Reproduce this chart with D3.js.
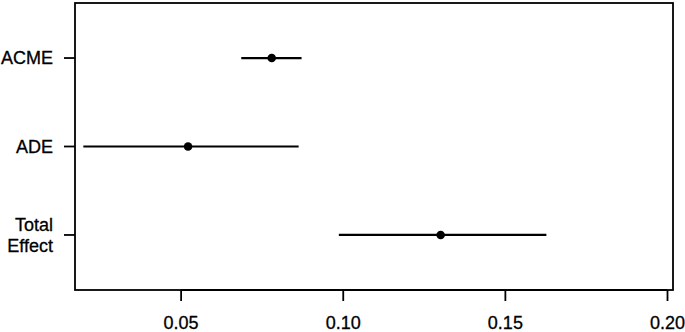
<!DOCTYPE html>
<html>
<head>
<meta charset="utf-8">
<script src="https://cdn.jsdelivr.net/npm/d3@7"></script>
<style>
  body { margin: 0; background: white; }
  text { font-family: "Liberation Sans", Arial, sans-serif; fill: black; }
</style>
</head>
<body>
<div id="chart"></div>
<script>
// Chart values
var effects = ["ACME", "ADE", "Total Effect"];
var estimates = [0.0781, 0.0523, 0.1302];
var lowerCI = [0.0687, 0.0200, 0.0988];
var upperCI = [0.0873, 0.0864, 0.1628];
var xTicks = [0.05, 0.10, 0.15, 0.20];

// Size of the page and plotting box
var width = 685;
var height = 332;
var box = { left: 75, right: 673, top: 3, bottom: 290 };
var fontSize = '18px';

var svg = d3.select('#chart').append('svg')
    .attr('width', width)
    .attr('height', height);

var x = d3.scaleLinear()
    .domain([0.01743, 0.20185])
    .range([box.left, box.right]);

// rows: ACME on top, Total Effect at the bottom
var y = d3.scaleLinear()
    .domain([0.378, 3.622])
    .range([box.top, box.bottom]);

var rows = effects.map(function(name, i) {
    return { name: name, est: estimates[i], lo: lowerCI[i], hi: upperCI[i], pos: i + 1 };
});

// Plot frame
svg.append('rect')
    .attr('x', box.left)
    .attr('y', box.top)
    .attr('width', box.right - box.left)
    .attr('height', box.bottom - box.top)
    .attr('fill', 'none')
    .attr('stroke', 'black')
    .attr('stroke-width', 1.8);

// X axis
var xAxis = svg.append('g')
    .attr('transform', `translate(0,${box.bottom})`)
    .call(d3.axisBottom(x).tickValues(xTicks).tickFormat(d3.format('.2f')).tickSize(11).tickPadding(15));
xAxis.select('.domain')
    .attr('d', `M${x(0.05)},0H${x(0.20)}`)
    .attr('stroke-width', 1.8);
xAxis.selectAll('.tick line').attr('stroke-width', 1.8);
xAxis.selectAll('.tick text')
    .style('font-family', '"Liberation Sans", Arial, sans-serif')
    .style('font-size', fontSize)
    .attr('fill', 'black')
    .attr('stroke', 'black')
    .attr('stroke-width', 0.3);

// Y ticks and labels
var yAxis = svg.append('g');
yAxis.selectAll('line')
    .data(rows)
    .join('line')
    .attr('x1', box.left - 11)
    .attr('x2', box.left)
    .attr('y1', d => y(d.pos))
    .attr('y2', d => y(d.pos))
    .attr('stroke', 'black')
    .attr('stroke-width', 1.8);

var labels = yAxis.selectAll('text')
    .data(rows)
    .join('text')
    .attr('text-anchor', 'end')
    .style('font-size', fontSize)
    .attr('stroke', 'black')
    .attr('stroke-width', 0.3)
    .attr('x', box.left - 22)
    .attr('y', d => y(d.pos));

labels.each(function(d) {
    var words = d.name.split(' ');
    var el = d3.select(this);
    var lineHeight = 20.5;
    var start = -(words.length - 1) * lineHeight / 2;
    words.forEach(function(w, k) {
        el.append('tspan')
            .attr('x', box.left - 22)
            .attr('y', y(d.pos) + start + k * lineHeight)
            .attr('dy', '0.35em')
            .text(w);
    });
});

// Confidence interval lines
svg.append('g').selectAll('line')
    .data(rows)
    .join('line')
    .attr('x1', d => x(d.lo))
    .attr('x2', d => x(d.hi))
    .attr('y1', d => y(d.pos))
    .attr('y2', d => y(d.pos))
    .attr('stroke', 'black')
    .attr('stroke-width', 2.2);

// Point estimates
svg.append('g').selectAll('circle')
    .data(rows)
    .join('circle')
    .attr('cx', d => x(d.est))
    .attr('cy', d => y(d.pos))
    .attr('r', 4.3)
    .attr('fill', 'black');
</script>
</body>
</html>
